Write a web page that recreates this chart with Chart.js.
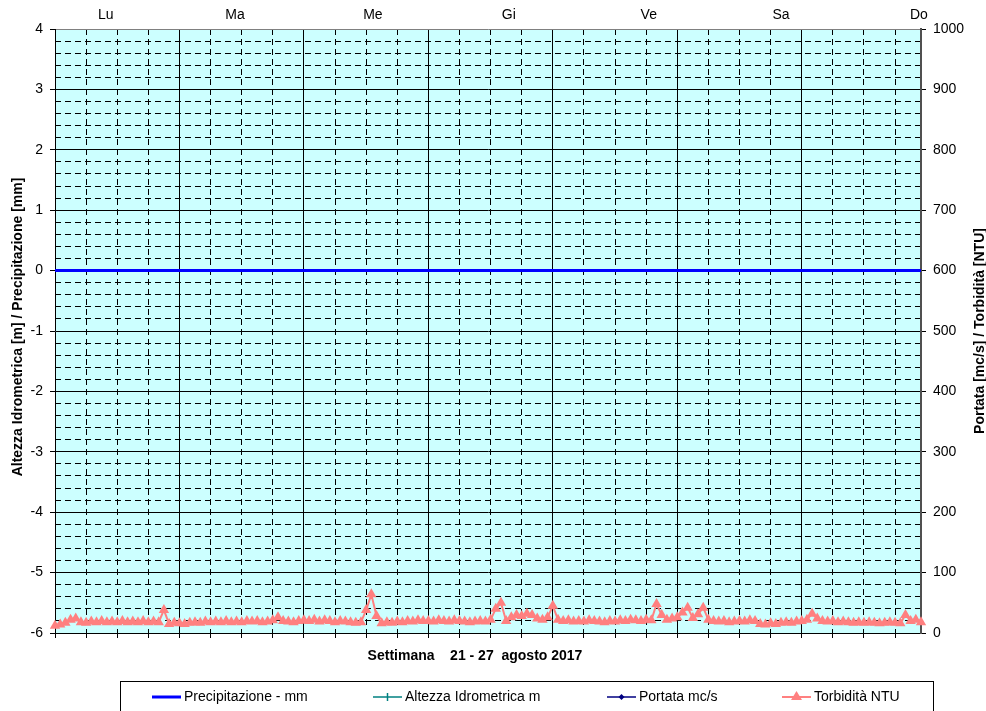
<!DOCTYPE html>
<html lang="it">
<head>
<meta charset="utf-8">
<title>Settimana 21 - 27 agosto 2017</title>
<script src="https://cdn.jsdelivr.net/npm/chart.js@4.4.1/dist/chart.umd.min.js"></script>
<style>
  html, body { margin: 0; padding: 0; background: #fff; }
  #wrap { position: relative; width: 986px; height: 711px; }
</style>
</head>
<body>
<div id="wrap"><canvas id="chart"></canvas></div>
<script>
// ======= Data (hourly, Mon 00:00 .. Sun 23:00) =======
const giorni = ["Lu", "Ma", "Me", "Gi", "Ve", "Sa", "Do"];
// hour positions where the day labels sit on the top axis
const posGiorni = [9.8, 34.7, 61.3, 87.5, 114.5, 140, 166.6];

const precipitazione = [
  0,0,0,0,0,0,0,0,0,0,0,0,0,0,0,0,0,0,0,0,0,0,0,0,
  0,0,0,0,0,0,0,0,0,0,0,0,0,0,0,0,0,0,0,0,0,0,0,0,
  0,0,0,0,0,0,0,0,0,0,0,0,0,0,0,0,0,0,0,0,0,0,0,0,
  0,0,0,0,0,0,0,0,0,0,0,0,0,0,0,0,0,0,0,0,0,0,0,0,
  0,0,0,0,0,0,0,0,0,0,0,0,0,0,0,0,0,0,0,0,0,0,0,0,
  0,0,0,0,0,0,0,0,0,0,0,0,0,0,0,0,0,0,0,0,0,0,0,0,
  0,0,0,0,0,0,0,0,0,0,0,0,0,0,0,0,0,0,0,0,0,0,0,0
];
const altezza = [];   // no readings this week
const portata = [];   // no readings this week
const torbidita = [
  12, 14, 17, 22, 24, 18, 17, 19, 18, 20, 18, 19, 18, 20, 18, 19, 18, 20, 18, 19, 18, 38, 15, 17,
  16, 15, 17, 18, 17, 19, 18, 19, 18, 20, 18, 19, 18, 20, 19, 20, 18, 19, 21, 26, 20, 19, 18, 20,
  21, 20, 22, 19, 21, 20, 18, 20, 19, 18, 17, 18, 38, 64, 28, 16, 18, 17, 19, 18, 20, 19, 21, 20,
  20, 19, 21, 20, 19, 21, 20, 19, 18, 19, 20, 19, 22, 40, 50, 20, 26, 30, 28, 32, 30, 24, 22, 26,
  45, 22, 20, 21, 19, 20, 19, 21, 20, 19, 18, 20, 19, 21, 20, 22, 21, 20, 22, 21, 48, 30, 22, 24,
  26, 34, 42, 25, 31, 42, 22, 20, 19, 20, 18, 19, 20, 19, 21, 20, 15, 14, 16, 15, 17, 18, 17, 19,
  20, 22, 32, 24, 20, 19, 20, 18, 19, 18, 17, 18, 17, 18, 17, 16, 17, 18, 17, 16, 30, 20, 22, 18
];
const ore = torbidita.map((_, i) => i);

const TITOLO_X  = "Settimana    21 - 27  agosto 2017";
const TITOLO_SX = "Altezza Idrometrica [m] / Precipitazione [mm]";
const TITOLO_DX = "Portata [mc/s] / Torbidità [NTU]";

// ======= Style =======
const FONT = 'Arial, "Liberation Sans", sans-serif';
const FONT_SIZE = 14;
const C_BG = "#CCFFFF";
const C_PREC = "#0000FF";
const C_ALT = "#008080";
const C_PORT = "#000080";
const C_TORB = "#FF8080";
const DASH = [6, 4];

Chart.defaults.font.family = FONT;
Chart.defaults.font.size = FONT_SIZE;
Chart.defaults.color = "#000";

const lastHour = ore[ore.length - 1];

function everyHours(step, from, to) {
  const out = [];
  for (let h = from; h <= to; h += step) out.push({ value: h });
  return out;
}

// Background, axis titles and the boxed legend at the bottom
const decor = {
  id: "decor",
  beforeDraw(chart) {
    const { ctx, chartArea: a } = chart;
    ctx.save();
    ctx.fillStyle = C_BG;
    ctx.fillRect(a.left, a.top, a.right - a.left, a.bottom - a.top);
    ctx.restore();
  },
  afterDraw(chart) {
    const { ctx, chartArea: a } = chart;
    const midY = (a.top + a.bottom) / 2;
    ctx.save();
    ctx.fillStyle = "#000";
    ctx.textBaseline = "middle";
    ctx.textAlign = "center";
    ctx.font = "bold 14px " + FONT;

    ctx.save();
    ctx.translate(18, midY - 4);
    ctx.rotate(-Math.PI / 2);
    ctx.fillText(TITOLO_SX, 0, 0);
    ctx.restore();

    ctx.save();
    ctx.translate(980, midY);
    ctx.rotate(-Math.PI / 2);
    ctx.fillText(TITOLO_DX, 0, 0);
    ctx.restore();

    ctx.fillText(TITOLO_X, 475, 656);

    // legend box
    ctx.strokeStyle = "#000";
    ctx.lineWidth = 1;
    ctx.strokeRect(120.5, 681.5, 813, 60);

    const y = 697;
    const starts = [152, 373, 607, 782];
    ctx.font = FONT_SIZE + "px " + FONT;
    ctx.textAlign = "left";
    chart.data.datasets.forEach((ds, i) => {
      const x0 = starts[i], x1 = x0 + 29, xm = (x0 + x1) / 2;
      ctx.strokeStyle = ds.borderColor;
      ctx.fillStyle = ds.borderColor;
      ctx.lineWidth = i === 0 ? 3 : (i === 3 ? 2 : 1.5);
      ctx.beginPath();
      ctx.moveTo(x0, y);
      ctx.lineTo(x1, y);
      ctx.stroke();
      if (ds.pointStyle === "cross") {
        ctx.lineWidth = 1.5;
        ctx.beginPath();
        ctx.moveTo(xm, y - 4);
        ctx.lineTo(xm, y + 4);
        ctx.stroke();
      } else if (ds.pointStyle === "rectRot") {
        ctx.beginPath();
        ctx.moveTo(xm, y - 3); ctx.lineTo(xm + 3, y); ctx.lineTo(xm, y + 3); ctx.lineTo(xm - 3, y);
        ctx.closePath();
        ctx.fill();
      } else if (ds.pointStyle === "triangle") {
        ctx.beginPath();
        ctx.moveTo(xm, y - 6); ctx.lineTo(xm + 5.5, y + 3); ctx.lineTo(xm - 5.5, y + 3);
        ctx.closePath();
        ctx.fill();
      }
      ctx.fillStyle = "#000";
      ctx.fillText(ds.label, x1 + 3, y);
    });
    ctx.restore();
  }
};

const chart = new Chart(document.getElementById("chart"), {
  type: "line",
  data: {
    labels: ore,
    datasets: [
      {
        label: "Precipitazione - mm",
        data: precipitazione,
        yAxisID: "y",
        borderColor: C_PREC,
        backgroundColor: C_PREC,
        borderWidth: 3,
        pointRadius: 0
      },
      {
        label: "Altezza Idrometrica m",
        data: altezza,
        yAxisID: "y",
        borderColor: C_ALT,
        backgroundColor: C_ALT,
        borderWidth: 1.5,
        pointStyle: "cross",
        pointRadius: 4
      },
      {
        label: "Portata mc/s",
        data: portata,
        yAxisID: "y2",
        borderColor: C_PORT,
        backgroundColor: C_PORT,
        borderWidth: 1.5,
        pointStyle: "rectRot",
        pointRadius: 3
      },
      {
        label: "Torbidità NTU",
        data: torbidita,
        yAxisID: "y2",
        borderColor: C_TORB,
        backgroundColor: C_TORB,
        borderWidth: 2,
        pointStyle: "triangle",
        pointRadius: 6,
        pointBorderWidth: 0,
        pointBackgroundColor: C_TORB,
        clip: false
      }
    ]
  },
  options: {
    responsive: true,
    maintainAspectRatio: false,
    animation: false,
    events: [],
    layout: { padding: 0 },
    plugins: { legend: { display: false }, tooltip: { enabled: false } },
    scales: {
      x: {
        type: "linear",
        position: "bottom",
        min: 0,
        max: lastHour,
        afterBuildTicks: s => { s.ticks = everyHours(6, 0, lastHour); },
        ticks: { display: false },
        grid: {
          color: c => (c.tick && c.tick.value % 24 === 0) ? "rgba(0,0,0,0)" : "#000",
          lineWidth: 1,
          tickColor: "#000",
          tickLength: 5
        },
        border: { display: true, color: "#000", width: 1, dash: DASH },
        afterFit: s => { s.height = 78; }
      },
      xGiorni: {
        type: "linear",
        position: "bottom",
        min: 0,
        max: lastHour,
        afterBuildTicks: s => { s.ticks = everyHours(24, 24, lastHour); },
        ticks: { display: false },
        grid: { color: "#000", lineWidth: 1, drawTicks: false },
        border: { display: false },
        afterFit: s => { s.height = 0; }
      },
      xTop: {
        type: "linear",
        position: "top",
        min: 0,
        max: lastHour,
        afterBuildTicks: s => { s.ticks = posGiorni.map(v => ({ value: v })); },
        ticks: {
          autoSkip: false,
          maxRotation: 0,
          padding: 5,
          callback: (v, i) => giorni[i]
        },
        grid: { drawOnChartArea: false, drawTicks: false },
        border: { display: true, color: "#808080", width: 1 },
        afterFit: s => { s.height = 29; }
      },
      y: {
        position: "left",
        min: -6,
        max: 4,
        ticks: { stepSize: 1, padding: 7 },
        grid: {
          color: c => (c.tick && c.tick.value === 4) ? "rgba(0,0,0,0)" : "#000",
          tickColor: "#000",
          lineWidth: 1,
          tickLength: 5
        },
        border: { display: true, color: "#000", width: 1 },
        afterFit: s => { s.width = 55; }
      },
      yMinor: {
        position: "left",
        min: -6,
        max: 4,
        afterBuildTicks: s => {
          const t = [];
          for (let i = 1; i < 50; i++) if (i % 5 !== 0) t.push({ value: -6 + i / 5 });
          s.ticks = t;
        },
        ticks: { display: false },
        grid: { color: "#000", lineWidth: 1, drawTicks: false },
        border: { display: false, dash: DASH },
        afterFit: s => { s.width = 0; }
      },
      y2: {
        position: "right",
        min: 0,
        max: 1000,
        ticks: { stepSize: 100, padding: 7, callback: v => String(v) },
        grid: { drawOnChartArea: false, tickColor: "#000", tickLength: 5 },
        border: { display: true, color: "#505050", width: 2 },
        afterFit: s => { s.width = 65; }
      }
    }
  },
  plugins: [decor]
});
</script>
</body>
</html>
